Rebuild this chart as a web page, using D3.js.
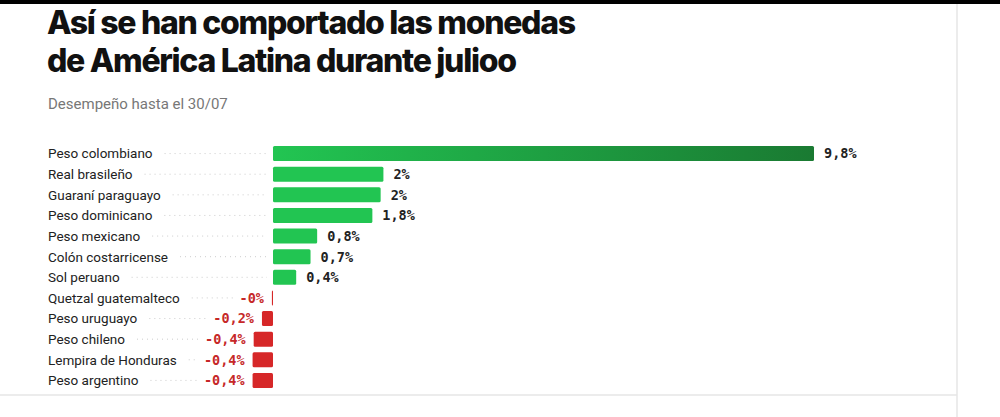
<!DOCTYPE html>
<html><head><meta charset="utf-8">
<script src="https://cdn.jsdelivr.net/npm/d3@7"></script>
<style>
body{margin:0;background:#fff;}
</style></head>
<body><div id="chart"></div>
<script>
const Categories = ["Peso colombiano","Real brasileño","Guaraní paraguayo","Peso dominicano","Peso mexicano","Colón costarricense","Sol peruano","Quetzal guatemalteco","Peso uruguayo","Peso chileno","Lempira de Honduras","Peso argentino"];
const Values = [9.8, 2.0, 1.95, 1.8, 0.8, 0.68, 0.42, -0.02, -0.2, -0.35, -0.37, -0.37];
const ValueLabels = ["9,8%","2%","2%","1,8%","0,8%","0,7%","0,4%","-0%","-0,2%","-0,4%","-0,4%","-0,4%"];

const W = 1000, H = 417;
const svg = d3.select('#chart').append('svg').attr('width', W).attr('height', H);

const defs = svg.append('defs');
const grad = defs.append('linearGradient').attr('id','gGrad');
grad.append('stop').attr('offset','0%').attr('stop-color','#22c552');
grad.append('stop').attr('offset','100%').attr('stop-color','#1a7a32');

svg.append('rect').attr('x',0).attr('y',0).attr('width',W).attr('height',4).attr('fill','#000');
svg.append('line').attr('x1',957).attr('x2',957).attr('y1',4).attr('y2',H).attr('stroke','#e6e6e6').attr('stroke-width',1.5);
svg.append('line').attr('x1',0).attr('x2',957).attr('y1',395).attr('y2',395).attr('stroke','#e6e6e6').attr('stroke-width',1.5);

const title = svg.append('text').attr('x',47).attr('font-family','Inter').attr('font-weight',800)
  .attr('font-size',32).attr('letter-spacing','-1.3px').attr('fill','#111');
title.append('tspan').attr('x',47).attr('y',34).text('Así se han comportado las monedas');
title.append('tspan').attr('x',47).attr('y',72).text('de América Latina durante julioo');

svg.append('text').attr('x',48).attr('y',109).attr('font-family','Roboto').attr('font-size',15)
  .attr('fill','#777').text('Desempeño hasta el 30/07');

const x = d3.scaleLinear().domain([0, 9.8]).range([273, 814]);
const y = d3.scaleBand().domain(Categories).range([144, 390]).paddingInner(0.27).paddingOuter(0.1);

const rows = svg.selectAll('g.row').data(Categories).enter().append('g').attr('class','row');

rows.append('text').attr('x',48).attr('y',(d)=>y(d)+y.bandwidth()/2).attr('dy','0.36em')
  .attr('font-family','Roboto').attr('font-size',13.5).attr('fill','#222').text(d=>d);

rows.each(function(d,i){
  const g = d3.select(this);
  const tw = g.select('text').node().getComputedTextLength();
  const v = Values[i];
  const endX = v < 0 ? x(v) - 8 - ValueLabels[i].length*8.3 - 6 : 267;
  g.append('line').attr('x1',48+tw+12).attr('x2',endX)
    .attr('y1',y(d)+y.bandwidth()/2).attr('y2',y(d)+y.bandwidth()/2)
    .attr('stroke','#ccc').attr('stroke-width',1).attr('stroke-dasharray','1,4');
  const x0 = Math.min(x(0), x(v)), w = Math.max(1, Math.abs(x(v)-x(0)));
  g.append('rect').attr('x',x0).attr('y',y(d)).attr('width',w).attr('height',y.bandwidth())
    .attr('rx',1.5)
    .attr('fill', i===0 ? 'url(#gGrad)' : (v>=0 ? '#22c552' : '#d62728'));
  g.append('text')
    .attr('x', v>=0 ? x(v)+10 : x(v)-8)
    .attr('text-anchor', v>=0 ? 'start' : 'end')
    .attr('y', y(d)+y.bandwidth()/2).attr('dy','0.36em')
    .attr('font-family','DejaVu Sans Mono').attr('font-weight','bold').attr('font-size',13.5)
    .attr('fill', v>=0 ? '#222' : '#c62828').text(ValueLabels[i]);
});
</script></body></html>
